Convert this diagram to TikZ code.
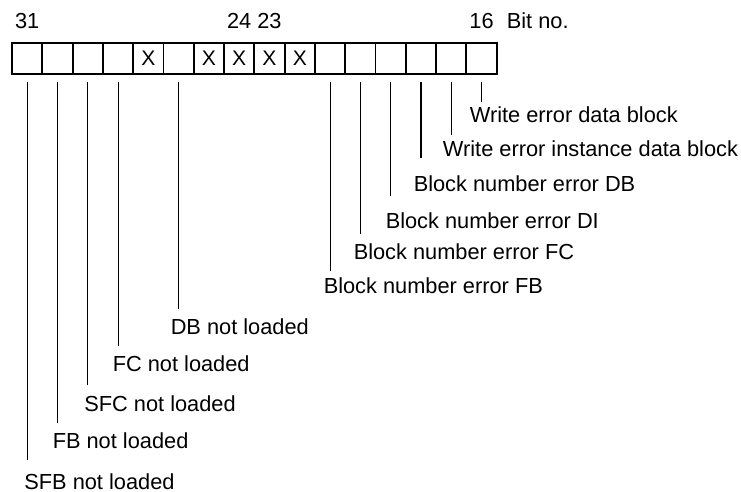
\documentclass[tikz,border=0pt]{standalone}
\usepackage{fontspec}
\setmainfont{Liberation Sans}
\usetikzlibrary{positioning, calc}
\tikzstyle{bitcell}  = [rectangle, minimum width=0.606cm, minimum height=0.62cm,
                        inner sep=0pt, outer sep=0pt, draw=black, line width=1.1pt,
                        font=\fontsize{12}{14}\selectfont]
\tikzstyle{bitnum}   = [inner sep=0pt, font=\fontsize{12.4}{14}\selectfont]
\tikzstyle{errlabel} = [anchor=north west, inner sep=0pt, font=\fontsize{12.4}{14}\selectfont]
\tikzstyle{errline}  = [line width=0.6pt, shorten <=0.17cm]

\begin{document}
\begin{tikzpicture}[x=0.02cm, y=-0.02cm]
  \useasboundingbox (0,0) rectangle (741,492);

  % Bit cells, bit 31 on the left
  \node (b31) [bitcell, anchor=north west] at (12,43) {};
  \node (b30) [bitcell, right=0pt of b31] {};
  \node (b29) [bitcell, right=0pt of b30] {};
  \node (b28) [bitcell, right=0pt of b29] {};
  \node (b27) [bitcell, right=0pt of b28] {X};
  \node (b26) [bitcell, right=0pt of b27] {};
  \node (b25) [bitcell, right=0pt of b26] {X};
  \node (b24) [bitcell, right=0pt of b25] {X};
  \node (b23) [bitcell, right=0pt of b24] {X};
  \node (b22) [bitcell, right=0pt of b23] {X};
  \node (b21) [bitcell, right=0pt of b22] {};
  \node (b20) [bitcell, right=0pt of b21] {};
  \node (b19) [bitcell, right=0pt of b20] {};
  \node (b18) [bitcell, right=0pt of b19] {};
  \node (b17) [bitcell, right=0pt of b18] {};
  \node (b16) [bitcell, right=0pt of b17] {};

  % Bit numbers
  \node (n31)   [bitnum, above=0.28cm of b31.north, anchor=base] {31};
  \node (n24)   [bitnum, above=0.28cm of b24.north, anchor=base] {24};
  \node (n23)   [bitnum, above=0.28cm of b23.north, anchor=base] {23};
  \node (n16)   [bitnum, above=0.28cm of b16.north, anchor=base] {16};
  \node (bitno) [bitnum, right=0.25cm of n16.base east, anchor=base west] {Bit no.};

  % Error labels
  \node (wedb)  [errlabel] at (469.5,106) {Write error data block};
  \node (weidb) [errlabel] at (442.6,140) {Write error instance data block};
  \node (bndb)  [errlabel] at (413.4,175) {Block number error DB};
  \node (bndi)  [errlabel] at (385.4,212) {Block number error DI};
  \node (bnfc)  [errlabel] at (353.4,243) {Block number error FC};
  \node (bnfb)  [errlabel] at (323.4,277) {Block number error FB};
  \node (dbnl)  [errlabel] at (170.4,318) {DB not loaded};
  \node (fcnl)  [errlabel] at (112.4,355) {FC not loaded};
  \node (sfcnl) [errlabel] at (84,395)    {SFC not loaded};
  \node (fbnl)  [errlabel] at (52.4,432)  {FB not loaded};
  \node (sfbnl) [errlabel] at (24,473)    {SFB not loaded};

  \draw [errline, shorten >=0.08cm] (b16) -- (b16 |- wedb.north);
  \draw [errline, shorten >=0.10cm] (b17) -- (b17 |- weidb.north);
  \draw [errline, shorten >=0.34cm] (b18) -- (b18 |- bndb.north);
  \draw [errline, shorten >=0.32cm] (b19) -- (b19 |- bndi.north);
  \draw [errline, shorten >=0.18cm] (b20) -- (b20 |- bnfc.north);
  \draw [errline, shorten >=0.12cm] (b21) -- (b21 |- bnfb.north);
  \draw [errline, shorten >=0.18cm] (b26) -- (b26 |- dbnl.north);
  \draw [errline, shorten >=0.18cm] (b28) -- (b28 |- fcnl.north);
  \draw [errline, shorten >=0.20cm] (b29) -- (b29 |- sfcnl.north);
  \draw [errline, shorten >=0.18cm] (b30) -- (b30 |- fbnl.north);
  \draw [errline, shorten >=0.26cm] (b31) -- (b31 |- sfbnl.north);
\end{tikzpicture}
\end{document}
